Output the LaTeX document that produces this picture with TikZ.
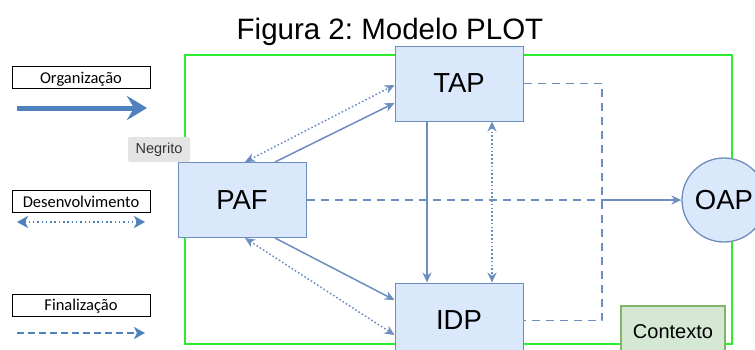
\documentclass[tikz,border=0pt]{standalone}
\usepackage{fontspec}
\setmainfont{Liberation Sans}
\newfontfamily\legendfont{Carlito}
\usetikzlibrary{arrows.meta,calc}
\frenchspacing

\definecolor{boxfill}{HTML}{DAE8FC}
\definecolor{boxline}{HTML}{6C8EBF}
\definecolor{ctxfill}{HTML}{D5E8D4}
\definecolor{ctxline}{HTML}{82B366}
\definecolor{frame}{RGB}{45,235,45}
\definecolor{legblue}{HTML}{4F81BD}
\definecolor{tipgray}{HTML}{E4E4E4}

\tikzset{
  x=1pt, y=-1pt,
  stage/.style={draw=boxline, fill=boxfill, line width=1pt, minimum width=128pt,
    minimum height=75pt, inner sep=0pt, font=\fontsize{27.5}{30}\selectfont},
  legendbox/.style={draw=black, line width=0.8pt, minimum width=138pt, minimum height=22pt,
    inner sep=0pt, text height=11pt, text depth=0pt,
    font=\legendfont\fontsize{16.5}{18}\selectfont},
  link/.style={draw=boxline, line width=1.5pt, -{Stealth[length=10pt,width=9pt]}},
  duallink/.style={draw=boxline, line width=1.5pt, dash pattern=on 1.6pt off 2.2pt,
    {Stealth[length=10pt,width=9pt]}-{Stealth[length=10pt,width=9pt]}},
  finallink/.style={draw=boxline, line width=1.5pt, dash pattern=on 8pt off 6pt},
}

\begin{document}
\begin{tikzpicture}
\useasboundingbox (0,0) rectangle (755,349);

% title
\node[anchor=base, font=\fontsize{29.5}{32}\selectfont] (title) at (390,39) {Figura 2: Modelo PLOT};

% context frame
\draw[frame, line width=2.2pt] (185,55) rectangle (732,344);

% stages of the model
\node[stage] (TAP) at (459,83.5) {TAP};
\node[stage] (PAF) at (242,200) {PAF};
\node[stage] (IDP) at (459,320.5) {IDP};
\node[draw=boxline, fill=boxfill, line width=1.3pt, circle, minimum size=84pt, inner sep=0pt,
  font=\fontsize{27.5}{30}\selectfont] (OAP) at (724,200) {OAP};
\node[draw=ctxline, fill=ctxfill, line width=1.3pt, minimum width=104pt, minimum height=50pt,
  inner sep=0pt, text height=14pt, text depth=0pt, font=\fontsize{20}{22}\selectfont]
  (ctx) at (673,331) {Contexto};

% organisation flow
\draw[link] ([xshift=33pt]PAF.north) -- ([yshift=-19.5pt]TAP.west);
\draw[link] ([xshift=33pt]PAF.south) -- ([yshift=20.5pt]IDP.west);
\draw[link] ([xshift=-32pt]TAP.south) -- ([xshift=-32pt]IDP.north);

% development flow
\draw[duallink] ([xshift=3pt]PAF.north) -- ([yshift=-1.5pt]TAP.west);
\draw[duallink] ([xshift=3pt]PAF.south) -- ([yshift=-14.5pt]IDP.west);
\draw[duallink] ([xshift=33pt]TAP.south) -- ([xshift=33pt]IDP.north);

% finalisation flow
\coordinate (bus) at (602,200);
\draw[finallink] (TAP.east) -- (TAP.east -| bus) -- (IDP.east -| bus) -- (IDP.east);
\draw[finallink] (PAF.east) -- (bus);
\draw[link] (bus) -- (OAP.west);

% legend
\node[legendbox] (org) at (81,77.5) {Organização};
\coordinate (orgA) at (17,108);
\coordinate (orgB) at (147,108);
\draw[legblue, line width=5pt, -{Stealth[length=20pt,width=24pt,inset=7pt]}] (orgA) -- (orgB);

\node[legendbox] (dev) at (81,201.5) {Desenvolvimento};
\coordinate (devA) at (17,222);
\coordinate (devB) at (145,222);
\draw[legblue, line width=2.6pt, dash pattern=on 1.5pt off 2.8pt,
  {Stealth[length=11pt,width=12pt,inset=3pt]}-{Stealth[length=11pt,width=12pt,inset=3pt]}] (devA) -- (devB);

\node[legendbox] (fin) at (81,305) {Finalização};
\coordinate (finA) at (17,333);
\coordinate (finB) at (145,333);
\draw[legblue, line width=2.6pt, dash pattern=on 7pt off 4pt,
  -{Stealth[length=11pt,width=12pt,inset=3pt]}] (finA) -- (finB);

% tooltip
\node[fill=tipgray, rounded corners=2pt, minimum width=62pt, minimum height=25pt, inner sep=0pt,
  text=black!80, font=\fontsize{14.5}{16}\selectfont] (tip) at (159,149.5) {Negrito};
\end{tikzpicture}
\end{document}
